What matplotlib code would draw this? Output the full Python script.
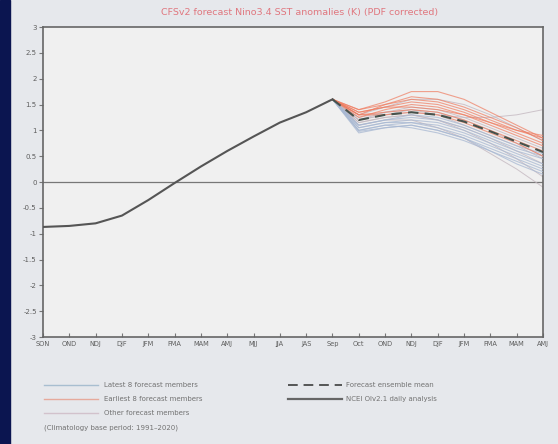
import numpy as np
import matplotlib
matplotlib.use("Agg")
import matplotlib.pyplot as plt
from matplotlib.lines import Line2D
from matplotlib.patches import Rectangle

# ── data ──────────────────────────────────────────────────────────
months = ['SON', 'OND', 'NDJ', 'DJF', 'JFM', 'FMA', 'MAM', 'AMJ', 'MJJ', 'JJA',
          'JAS', 'Sep', 'Oct', 'OND', 'NDJ', 'DJF', 'JFM', 'FMA', 'MAM', 'AMJ']

observed = [-0.87, -0.85, -0.80, -0.65, -0.35, -0.02, 0.30, 0.60, 0.88, 1.15, 1.35, 1.60]

# forecast members start at Sep (index 11) and run to AMJ (index 19)
latest8 = [
    [1.6, 1.00, 1.10, 1.15, 1.05, 0.90, 0.70, 0.50, 0.30],
    [1.6, 0.95, 1.05, 1.10, 1.00, 0.85, 0.60, 0.40, 0.20],
    [1.6, 1.05, 1.15, 1.20, 1.15, 1.00, 0.80, 0.60, 0.45],
    [1.6, 1.10, 1.20, 1.25, 1.20, 1.05, 0.85, 0.65, 0.50],
    [1.6, 1.00, 1.10, 1.05, 0.95, 0.80, 0.60, 0.35, 0.15],
    [1.6, 1.05, 1.15, 1.15, 1.10, 0.95, 0.75, 0.55, 0.35],
    [1.6, 1.10, 1.20, 1.30, 1.25, 1.10, 0.90, 0.70, 0.55],
    [1.6, 0.98, 1.05, 1.10, 1.00, 0.85, 0.65, 0.45, 0.25],
]
earliest8 = [
    [1.6, 1.35, 1.45, 1.55, 1.50, 1.35, 1.15, 0.95, 0.75],
    [1.6, 1.30, 1.50, 1.65, 1.60, 1.45, 1.25, 1.05, 0.80],
    [1.6, 1.40, 1.55, 1.75, 1.75, 1.60, 1.35, 1.10, 0.85],
    [1.6, 1.30, 1.35, 1.40, 1.35, 1.20, 1.00, 0.80, 0.60],
    [1.6, 1.25, 1.40, 1.50, 1.45, 1.30, 1.10, 0.90, 0.70],
    [1.6, 1.35, 1.45, 1.45, 1.40, 1.30, 1.15, 1.00, 0.85],
    [1.6, 1.30, 1.30, 1.35, 1.30, 1.15, 0.95, 0.75, 0.50],
    [1.6, 1.40, 1.50, 1.60, 1.55, 1.40, 1.20, 1.00, 0.90],
]
others = [
    [1.6, 1.20, 1.30, 1.35, 1.30, 1.25, 1.25, 1.30, 1.40],
    [1.6, 1.15, 1.25, 1.30, 1.20, 1.00, 0.75, 0.45, 0.10],
    [1.6, 1.10, 1.20, 1.20, 1.05, 0.85, 0.55, 0.25, -0.10],
    [1.6, 1.25, 1.35, 1.45, 1.40, 1.25, 1.05, 0.85, 0.65],
    [1.6, 1.20, 1.30, 1.40, 1.35, 1.20, 1.00, 0.75, 0.50],
    [1.6, 1.15, 1.25, 1.30, 1.20, 1.05, 0.85, 0.60, 0.35],
    [1.6, 1.30, 1.45, 1.60, 1.60, 1.50, 1.30, 1.05, 0.80],
    [1.6, 1.20, 1.35, 1.40, 1.30, 1.10, 0.90, 0.70, 0.45],
]
ens_mean = [1.6, 1.20, 1.30, 1.35, 1.30, 1.17, 0.98, 0.78, 0.58]

yticks = [3, 2.5, 2, 1.5, 1, 0.5, 0, -0.5, -1, -1.5, -2, -2.5, -3]

# ── figure ────────────────────────────────────────────────────────
W, H = 558, 444
fig = plt.figure(figsize=(W / 100, H / 100), dpi=100)
fig.patch.set_facecolor('#e6e8ec')
fig.add_artist(Rectangle((0, 0), 10 / W, 1, transform=fig.transFigure,
                         color='#0b1550', zorder=0))

def fx(px): return px / W
def fy(py): return 1 - py / H

ax = fig.add_axes([fx(43), fy(337), fx(543) - fx(43), fy(27) - fy(337)])
ax.set_facecolor('#f0f0f0')

x_obs = np.arange(len(observed))
x_fc = np.arange(11, 11 + len(ens_mean))

for m in others:
    ax.plot(x_fc, m, color='#c4b8c0', lw=0.7, alpha=0.8, zorder=2)
for m in latest8:
    ax.plot(x_fc, m, color='#a8b8d2', lw=0.8, alpha=0.75, zorder=3)
for m in earliest8:
    ax.plot(x_fc, m, color='#ef7c60', lw=0.8, alpha=0.7, zorder=4)
ax.plot(x_fc, ens_mean, color='#46524c', lw=1.5, ls=(0, (5, 3)), zorder=5)
ax.plot(x_obs, observed, color='#555555', lw=1.5, zorder=6)

ax.axhline(0, color='#777777', lw=0.9, zorder=1)

ax.set_xlim(0, len(months) - 1)
ax.set_ylim(-3, 3)
ax.set_xticks(np.arange(len(months)))
ax.set_xticklabels(months, fontsize=4.8, color='#5e5e5e')
ax.set_yticks(yticks)
ax.set_yticklabels([f'{v:g}' for v in yticks], fontsize=5, color='#5e5e5e')
ax.tick_params(axis='x', direction='in', length=3, color='#777777', pad=3)
ax.tick_params(axis='y', direction='out', length=3, color='#777777', pad=1.5)
for s in ax.spines.values():
    s.set_color('#666666')
    s.set_linewidth(1.2)

fig.text(fx(300), fy(12), 'CFSv2 forecast Nino3.4 SST anomalies (K) (PDF corrected)',
         ha='center', va='center', fontsize=6.8, color='#e0777f')

# ── legend (drawn by hand, like the original) ─────────────────────
txt = dict(fontsize=5, color='#727272', va='center', ha='left')
left_rows = [('Latest 8 forecast members', '#a8bed0', '-', 1.0),
             ('Earliest 8 forecast members', '#e6aa9c', '-', 1.0),
             ('Other forecast members', '#d2c2cc', '-', 1.0)]
for i, (lab, col, ls, lw) in enumerate(left_rows):
    yy = fy(385 + i * 14)
    fig.add_artist(Line2D([fx(44), fx(98)], [yy, yy], color=col, lw=lw,
                          ls=ls, transform=fig.transFigure))
    fig.text(fx(104), yy, lab, **txt)
fig.text(fx(44), fy(428), '(Climatology base period: 1991\u20132020)', **txt)

right_rows = [('Forecast ensemble mean', '#555555', (0, (5, 3)), 1.4),
              ('NCEI OIv2.1 daily analysis', '#666666', '-', 1.6)]
for i, (lab, col, ls, lw) in enumerate(right_rows):
    yy = fy(385 + i * 14)
    fig.add_artist(Line2D([fx(288), fx(342)], [yy, yy], color=col, lw=lw,
                          ls=ls, transform=fig.transFigure))
    fig.text(fx(346), yy, lab, **txt)

fig.savefig('out.png', dpi=100, facecolor=fig.get_facecolor())
